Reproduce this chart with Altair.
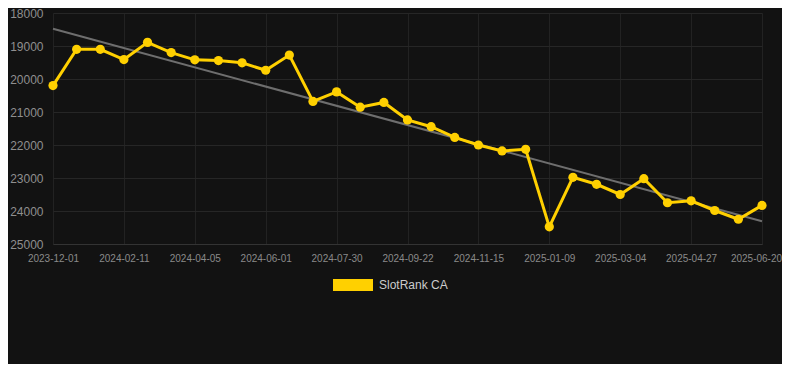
import altair as alt
import pandas as pd

dates = [
    "2023-12-01", "2023-12-25", "2024-01-18", "2024-02-11", "2024-02-29", "2024-03-18",
    "2024-04-05", "2024-04-24", "2024-05-13", "2024-06-01", "2024-06-20", "2024-07-10",
    "2024-07-30", "2024-08-17", "2024-09-04", "2024-09-22", "2024-10-10", "2024-10-28",
    "2024-11-15", "2024-12-03", "2024-12-21", "2025-01-09", "2025-01-27", "2025-02-14",
    "2025-03-04", "2025-03-22", "2025-04-09", "2025-04-27", "2025-05-15", "2025-06-02",
    "2025-06-20",
]
ranks = [
    20200, 19100, 19100, 19410, 18890, 19200, 19420, 19440, 19510, 19735, 19275,
    20680, 20390, 20855, 20710, 21240, 21445, 21770, 22000, 22180, 22130, 24480,
    22980, 23190, 23500, 23020, 23750, 23690, 23985, 24250, 23830,
]
tick_dates = [
    "2023-12-01", "2024-02-11", "2024-04-05", "2024-06-01", "2024-07-30", "2024-09-22",
    "2024-11-15", "2025-01-09", "2025-03-04", "2025-04-27", "2025-06-20",
]
y_ticks = [18000, 19000, 20000, 21000, 22000, 23000, 24000, 25000]
series_name = "SlotRank CA"
trend_dates = ["2023-12-01", "2025-06-20"]
trend_values = [18480, 24310]

YELLOW = "#FFD000"
FONT = "Liberation Sans"

df = pd.DataFrame({"date": dates, "rank": ranks, "series": [series_name] * len(dates)})
tdf = pd.DataFrame({"date": trend_dates, "rank": trend_values})

x_enc = alt.X(
    "date:O",
    scale=alt.Scale(type="point", domain=dates, range=[0, 709], padding=0),
    axis=alt.Axis(
        values=tick_dates, labelAngle=0, title=None, labelFontSize=10,
        labelColor="#8a8a8a", labelFont=FONT, labelPadding=9, ticks=False,
        domainColor="#333333", gridColor="#222222", grid=True,
        labelOffset={"condition": {"test": f"datum.value === '{tick_dates[-1]}'", "value": -6}, "value": 0},
    ),
)
y_enc = alt.Y(
    "rank:Q",
    scale=alt.Scale(domain=[18000, 25000], reverse=True, nice=False, zero=False),
    axis=alt.Axis(
        values=y_ticks, format="d", title=None, labelFontSize=12, labelColor="#8f8f8f",
        labelFont=FONT, labelPadding=10, ticks=False, domain=False, gridColor="#262626",
    ),
)

trend = alt.Chart(tdf).mark_line(color="#6e6e6e", strokeWidth=2).encode(x=x_enc, y=y_enc)

line = alt.Chart(df).mark_line(
    strokeWidth=3,
    point=alt.OverlayMarkDef(filled=True, size=85, fill=YELLOW, strokeWidth=0),
).encode(
    x=x_enc,
    y=y_enc,
    color=alt.Color(
        "series:N",
        scale=alt.Scale(domain=[series_name], range=[YELLOW]),
        legend=alt.Legend(
            title=None, orient="none", legendX=280, legendY=252, direction="horizontal",
            symbolType="M-1,-0.3L1,-0.3L1,0.3L-1,0.3Z", symbolSize=1600,
            symbolStrokeWidth=0, symbolFillColor=YELLOW, labelColor="#cccccc",
            labelFontSize=12, labelFont=FONT, labelOffset=6, padding=0,
        ),
    ),
)

chart = alt.layer(trend, line).properties(
    width=729,
    height=231,
    autosize=alt.AutoSizeParams(type="none"),
    padding={"left": 45, "top": 5, "right": 0, "bottom": 120},
    background="#121212",
).configure_view(strokeWidth=0)

chart.save("out.html", embed_options={"renderer": "svg", "actions": False})
